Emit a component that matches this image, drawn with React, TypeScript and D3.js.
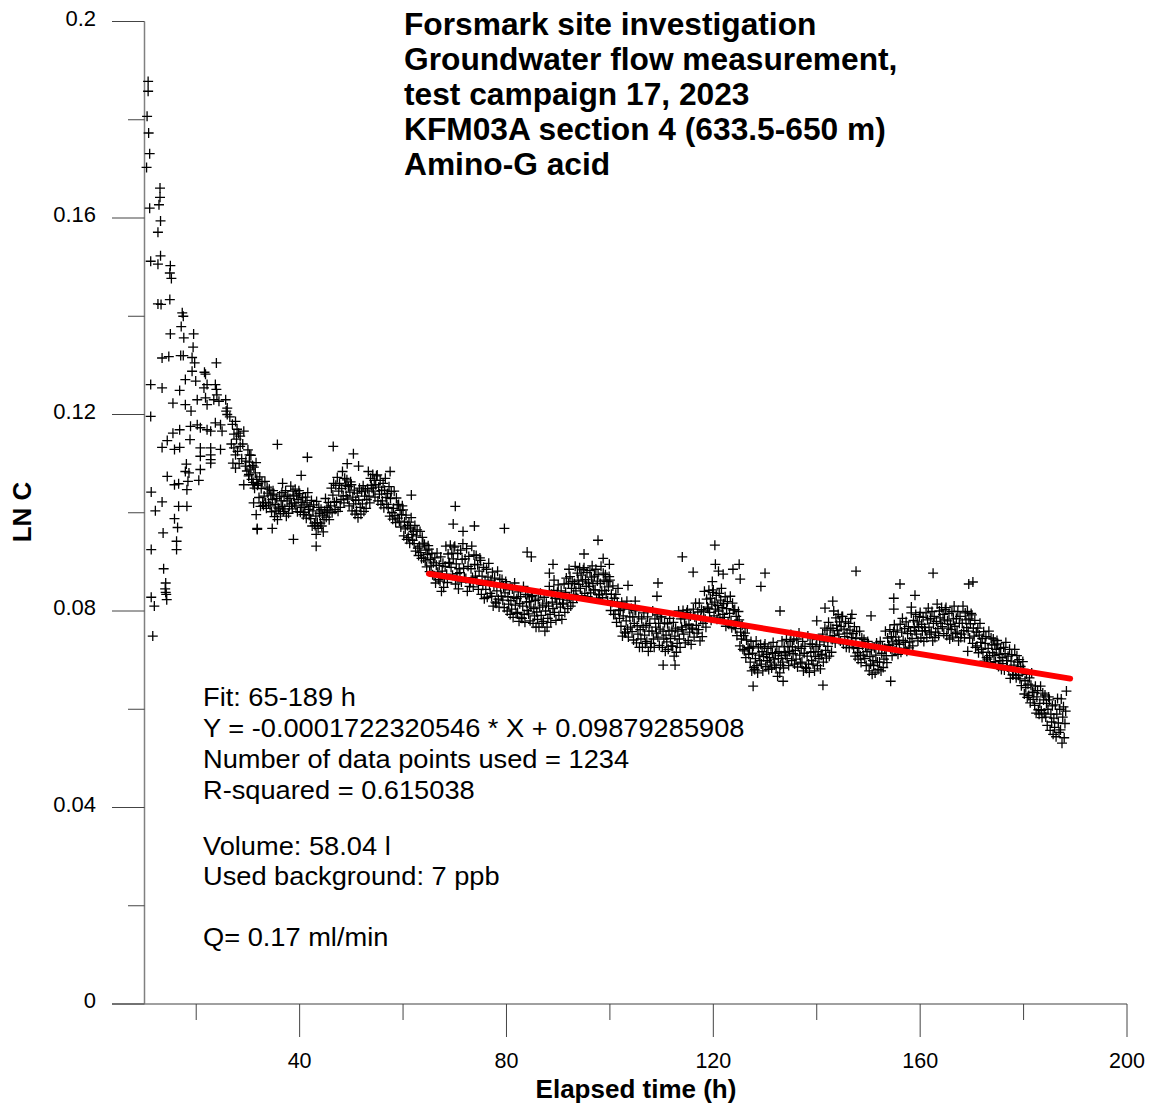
import React from "react";
import * as d3 from "d3";

// title + annotation text
const titleLines = [
  "Forsmark site investigation",
  "Groundwater flow measurement,",
  "test campaign 17, 2023",
  "KFM03A section 4 (633.5-650 m)",
  "Amino-G acid",
];
const noteLines = [
  "Fit: 65-189 h",
  "Y = -0.0001722320546 * X + 0.09879285908",
  "Number of data points used = 1234",
  "R-squared = 0.615038",
  "Volume: 58.04 l",
  "Used background: 7 ppb",
  "Q= 0.17 ml/min",
];
const noteBaselines = [706, 737, 768, 799, 855, 885, 946];

const xMajor = [40, 80, 120, 160, 200];
const xMinor = [20, 60, 100, 140, 180];
const yMajor = [0, 0.04, 0.08, 0.12, 0.16, 0.2];
const yMinor = [0.02, 0.06, 0.1, 0.14, 0.18];
const yLabels = ["0", "0.04", "0.08", "0.12", "0.16", "0.2"];

// fitted line from the note
const fitSlope = -0.0001722320546;
const fitIntercept = 0.09879285908;
const fitRange = [65, 189];

// first hours: [elapsed time h, LN C]
const earlyPoints: [number, number][] = [
  [10.7, .1878], [10.7, .1858], [10.5, .1807], [10.8, .1773], [11.0, .1731], [10.4, .1703],
  [13.0, .1661], [13.0, .1642], [12.8, .1627], [11.0, .1620], [13.1, .1594], [12.6, .1571],
  [13.1, .1523], [11.2, .1512], [12.6, .1506], [15.0, .1503], [14.9, .1488], [15.2, .1477],
  [12.6, .1425], [13.2, .1424], [14.9, .1434], [17.3, .1407], [17.5, .1400], [17.1, .1379],
  [15.0, .1364], [17.6, .1356], [19.5, .1364], [19.4, .1337], [13.4, .1315], [14.7, .1318],
  [17.0, .1320], [17.5, .1320], [19.2, .1316], [19.7, .1305], [23.9, .1305], [19.2, .1288],
  [21.6, .1286], [21.8, .1282], [11.2, .1261], [13.4, .1254], [16.8, .1249], [17.9, .1271],
  [19.9, .1268], [21.5, .1254], [22.1, .1261], [23.7, .1261], [23.9, .1251], [24.0, .1240],
  [15.5, .1223], [17.9, .1220], [19.0, .1207], [20.2, .1230], [21.8, .1234], [22.1, .1220],
  [23.4, .1230], [24.4, .1227], [25.7, .1230], [26.0, .1213], [11.2, .1196], [25.8, .1207],
  [26.0, .1200], [27.6, .1186], [15.5, .1162], [16.8, .1169], [18.9, .1176], [20.2, .1179],
  [20.8, .1173], [22.1, .1169], [22.8, .1166], [23.7, .1183], [24.7, .1179], [25.0, .1166],
  [28.2, .1162], [28.5, .1156], [29.2, .1166], [13.4, .1133], [14.4, .1147], [15.8, .1129],
  [16.8, .1133], [18.8, .1149], [20.8, .1132], [22.8, .1132], [22.8, .1118], [24.7, .1129],
  [27.3, .1132], [27.6, .1118], [28.5, .1135], [30.3, .1118], [20.8, .1115], [22.8, .1108],
  [22.8, .1101], [18.1, .1099], [17.9, .1084], [18.6, .1081], [20.8, .1088], [27.1, .1101],
  [27.6, .1091], [29.5, .1095], [30.2, .1078], [14.4, .1074], [15.8, .1057], [16.6, .1059],
  [18.4, .1064], [20.5, .1066], [29.2, .1057], [31.0, .1057], [11.3, .1042], [13.4, .1022],
  [18.2, .1047], [12.1, .1004], [16.6, .1013], [18.2, .1013], [31.1, .1020], [31.6, .0996],
  [15.8, .0988], [16.4, .0970], [13.6, .0959], [16.2, .0942], [16.2, .0925], [11.3, .0925],
  [31.8, .0966], [13.7, .0886], [14.1, .0857], [14.2, .0834], [14.3, .0823], [11.3, .0828],
  [11.9, .0810], [11.6, .0749], [14.0, .0845], [14.1, .0838],
  [26.5, .1195], [27.0, .1180], [27.3, .1160], [27.8, .1150], [28.0, .1125], [28.8, .1110],
  [29.0, .1140], [29.6, .1105], [29.8, .1085], [26.8, .1140], [27.9, .1170], [28.3, .1100],
];

// dense part: [hour, readings spaced evenly through that hour], LN C in units of 1e-4
const bandRows: number[][] = [
  [30, 1128, 1075, 1103, 1089, 1117, 1068, 1096],
  [31, 1062, 1093, 1050, 1081, 1102, 1068, 1056],
  [32, 1059, 1031, 1073, 1013, 1049, 1063, 1020],
  [33, 1015, 1034, 1064, 1021, 1009, 1052, 1040],
  [34, 1020, 1048, 1014, 1036, 1002, 1027, 1045],
  [35, 1038, 992, 1017, 1004, 1029, 986, 1010],
  [36, 1008, 1034, 998, 1024, 1041, 1013, 1003],
  [37, 1033, 1008, 1045, 993, 1024, 1036, 999],
  [38, 1013, 1029, 1054, 1018, 1008, 1044, 1034],
  [39, 1020, 1048, 1014, 1036, 1002, 1027, 1045],
  [40, 1039, 1001, 1021, 1011, 1031, 996, 1016],
  [41, 1001, 1032, 989, 1020, 1041, 1007, 995],
  [42, 1013, 988, 1025, 973, 1004, 1016, 979],
  [43, 974, 993, 1023, 980, 968, 1011, 999],
  [44, 979, 1007, 973, 995, 961, 986, 1004],
  [45, 1029, 991, 1011, 1001, 1021, 986, 1006],
  [46, 1014, 1050, 1000, 1036, 1060, 1021, 1007],
  [47, 1056, 1023, 1072, 1003, 1044, 1060, 1011],
  [48, 1027, 1049, 1084, 1034, 1020, 1070, 1056],
  [49, 1035, 1067, 1028, 1053, 1014, 1042, 1063],
  [50, 1057, 1004, 1032, 1018, 1046, 997, 1025],
  [51, 1004, 1040, 990, 1026, 1050, 1011, 997],
  [52, 1043, 1018, 1055, 1003, 1034, 1046, 1009],
  [53, 1027, 1049, 1084, 1034, 1020, 1070, 1056],
  [54, 1050, 1078, 1044, 1066, 1032, 1057, 1075],
  [55, 1077, 1024, 1052, 1038, 1066, 1017, 1045],
  [56, 1024, 1060, 1010, 1046, 1070, 1031, 1017],
  [57, 1039, 1011, 1053, 993, 1029, 1043, 1000],
  [58, 987, 1009, 1044, 994, 980, 1030, 1016],
  [59, 989, 1017, 983, 1005, 971, 996, 1014],
  [60, 1006, 953, 981, 967, 995, 946, 974],
  [61, 950, 981, 938, 969, 990, 956, 944],
  [62, 962, 937, 974, 922, 953, 965, 928],
  [63, 913, 932, 962, 919, 907, 950, 938],
  [64, 908, 936, 902, 924, 890, 915, 933],
  [65, 926, 880, 905, 892, 917, 874, 898],
  [66, 872, 908, 857, 893, 918, 879, 864],
  [67, 893, 861, 910, 840, 881, 897, 848],
  [68, 866, 891, 932, 875, 858, 916, 899],
  [69, 897, 934, 889, 918, 873, 906, 930],
  [70, 932, 855, 896, 876, 917, 845, 886],
  [71, 878, 924, 859, 905, 937, 887, 868],
  [72, 906, 866, 927, 840, 891, 911, 850],
  [73, 858, 886, 932, 868, 849, 914, 895],
  [74, 871, 913, 862, 894, 844, 881, 908],
  [75, 903, 834, 871, 852, 889, 825, 861],
  [76, 844, 885, 828, 869, 897, 852, 836],
  [77, 863, 830, 879, 810, 851, 867, 818],
  [78, 816, 841, 881, 824, 808, 865, 849],
  [79, 830, 864, 822, 849, 807, 837, 860],
  [80, 854, 800, 829, 814, 843, 793, 821],
  [81, 804, 845, 787, 828, 857, 812, 795],
  [82, 825, 797, 839, 779, 815, 829, 786],
  [83, 785, 810, 850, 793, 777, 834, 818],
  [84, 801, 833, 794, 819, 780, 808, 829],
  [85, 832, 775, 805, 790, 821, 767, 798],
  [86, 783, 824, 767, 808, 836, 791, 775],
  [87, 812, 779, 828, 759, 800, 816, 767],
  [88, 785, 810, 850, 793, 777, 834, 818],
  [89, 805, 842, 797, 826, 781, 814, 838],
  [90, 853, 791, 824, 808, 841, 783, 816],
  [91, 814, 855, 797, 838, 867, 822, 805],
  [92, 856, 828, 870, 810, 846, 860, 817],
  [93, 834, 856, 891, 841, 827, 877, 863],
  [94, 854, 888, 846, 873, 831, 861, 884],
  [95, 888, 836, 864, 850, 878, 829, 857],
  [96, 850, 882, 837, 869, 892, 856, 843],
  [97, 871, 843, 885, 826, 861, 874, 833],
  [98, 834, 856, 891, 841, 827, 877, 863],
  [99, 842, 874, 835, 860, 821, 849, 870],
  [100, 863, 801, 834, 818, 851, 793, 826],
  [101, 793, 834, 777, 818, 846, 801, 785],
  [102, 802, 769, 818, 749, 790, 806, 757],
  [103, 755, 780, 820, 763, 747, 804, 788],
  [104, 767, 805, 758, 788, 741, 775, 801],
  [105, 801, 735, 770, 753, 788, 726, 762],
  [106, 743, 784, 726, 767, 796, 751, 734],
  [107, 771, 738, 788, 718, 759, 775, 726],
  [108, 734, 759, 800, 743, 726, 784, 767],
  [109, 755, 792, 747, 775, 730, 763, 788],
  [110, 788, 726, 759, 743, 776, 718, 751],
  [111, 737, 774, 722, 759, 785, 744, 729],
  [112, 761, 728, 777, 708, 749, 765, 716],
  [113, 734, 759, 800, 743, 726, 784, 767],
  [114, 762, 801, 753, 784, 735, 770, 797],
  [115, 802, 740, 773, 757, 790, 732, 765],
  [116, 763, 804, 747, 788, 816, 771, 755],
  [117, 798, 762, 816, 739, 785, 803, 748],
  [118, 775, 800, 840, 783, 767, 824, 808],
  [119, 805, 842, 797, 826, 781, 814, 838],
  [120, 843, 790, 818, 804, 832, 783, 811],
  [121, 800, 836, 786, 822, 846, 807, 793],
  [122, 815, 787, 829, 769, 805, 819, 776],
  [123, 773, 795, 830, 780, 766, 816, 802],
  [124, 771, 803, 764, 789, 750, 778, 799],
  [125, 782, 729, 757, 743, 771, 722, 750],
  [126, 719, 755, 705, 741, 765, 726, 712],
  [127, 724, 696, 738, 678, 714, 728, 685],
  [128, 681, 703, 739, 689, 674, 725, 710],
  [129, 699, 732, 692, 717, 678, 707, 728],
  [130, 733, 687, 712, 699, 724, 681, 705],
  [131, 696, 727, 684, 715, 736, 702, 690],
  [132, 714, 685, 728, 667, 703, 717, 674],
  [133, 690, 709, 739, 696, 684, 727, 715],
  [134, 710, 742, 703, 728, 689, 717, 738],
  [135, 752, 699, 727, 713, 741, 692, 720],
  [136, 702, 743, 686, 727, 755, 710, 694],
  [137, 724, 696, 738, 678, 714, 728, 685],
  [138, 683, 708, 749, 692, 675, 733, 716],
  [139, 699, 732, 692, 717, 678, 707, 728],
  [140, 742, 689, 717, 703, 731, 682, 710],
  [141, 712, 753, 696, 737, 765, 720, 704],
  [142, 761, 728, 777, 708, 749, 765, 716],
  [143, 742, 764, 800, 750, 735, 786, 771],
  [144, 760, 793, 753, 778, 739, 768, 789],
  [145, 789, 733, 763, 748, 778, 726, 755],
  [146, 739, 775, 725, 761, 785, 746, 732],
  [147, 754, 726, 768, 708, 744, 758, 715],
  [148, 702, 724, 759, 709, 695, 745, 731],
  [149, 710, 742, 703, 728, 689, 717, 738],
  [150, 732, 678, 707, 692, 721, 671, 699],
  [151, 689, 725, 674, 710, 735, 696, 681],
  [152, 724, 696, 738, 678, 714, 728, 685],
  [153, 702, 724, 759, 709, 695, 745, 731],
  [154, 730, 762, 723, 748, 709, 737, 758],
  [155, 772, 719, 747, 733, 761, 712, 740],
  [156, 732, 773, 716, 757, 785, 740, 724],
  [157, 764, 736, 778, 718, 754, 768, 725],
  [158, 737, 759, 796, 744, 729, 781, 766],
  [159, 760, 793, 753, 778, 739, 768, 789],
  [160, 797, 745, 773, 759, 787, 738, 766],
  [161, 760, 796, 746, 782, 806, 767, 753],
  [162, 785, 757, 799, 739, 775, 789, 746],
  [163, 757, 779, 814, 764, 750, 800, 786],
  [164, 775, 807, 768, 793, 754, 782, 803],
  [165, 807, 750, 780, 765, 795, 743, 773],
  [166, 762, 799, 747, 784, 810, 769, 754],
  [167, 785, 757, 799, 739, 775, 789, 746],
  [168, 753, 775, 810, 760, 746, 796, 782],
  [169, 766, 799, 759, 784, 745, 774, 795],
  [170, 792, 734, 765, 749, 781, 726, 757],
  [171, 729, 765, 715, 751, 775, 736, 722],
  [172, 744, 716, 758, 698, 734, 748, 705],
  [173, 702, 724, 759, 709, 695, 745, 731],
  [174, 715, 743, 709, 731, 697, 722, 740],
  [175, 733, 687, 712, 699, 724, 681, 705],
  [176, 693, 726, 680, 713, 736, 699, 686],
  [177, 708, 680, 722, 663, 698, 711, 670],
  [178, 670, 690, 722, 677, 664, 709, 696],
  [179, 669, 701, 662, 687, 648, 676, 697],
  [180, 681, 631, 658, 644, 671, 624, 651],
  [181, 628, 664, 613, 649, 674, 635, 620],
  [182, 634, 608, 647, 592, 625, 638, 599],
  [183, 590, 612, 647, 597, 583, 633, 619],
  [184, 592, 629, 584, 612, 567, 600, 625],
  [185, 619, 557, 590, 574, 607, 549, 582],
  [186, 563, 609, 544, 590, 622, 572, 553],
  [187, 600, 558, 621, 531, 584, 605, 542],
  [188, 571, 596, 637],
];

// scattered single readings outside the main band
const outliers: [number, number][] = [
  [35.7, .1139], [34.7, .0968], [31.8, .0968], [36.7, .1060], [38.8, .0946], [40.3, .1076],
  [41.5, .1113], [43.2, .0932], [43.2, .0956], [46.5, .1135], [49.2, .1100], [50.4, .1120],
  [51.4, .1095], [57.5, .1084], [61.6, .1036], [70.1, .1013], [69.7, .0977], [71.6, .0962],
  [73.8, .0973], [79.6, .0968], [84.0, .0920], [84.8, .0910], [89.0, .0895], [88.3, .0877],
  [89.2, .0863], [92.1, .0885], [95.0, .0916], [97.7, .0944], [98.7, .0907], [99.9, .0895],
  [103.5, .0852], [104.9, .0820], [109.3, .0857], [109.1, .0830], [110.3, .0690], [112.6, .0690],
  [114.0, .0910], [116.1, .0879], [120.3, .0934], [120.4, .0895], [121.0, .0881], [121.9, .0875],
  [119.8, .0860], [123.8, .0885], [125.0, .0895], [125.2, .0865], [127.7, .0647], [130.0, .0877],
  [129.2, .0850], [132.9, .0800], [133.5, .0657], [141.2, .0649], [141.6, .0806], [140.0, .0780],
  [143.1, .0820], [146.8, .0793], [147.6, .0881], [150.5, .0790], [154.3, .0657], [154.9, .0826],
  [154.9, .0804], [156.1, .0855], [159.0, .0832], [158.3, .0808], [162.5, .0877], [169.2, .0718],
  [169.4, .0855], [170.2, .0859],
];

const W = 1157;
const H = 1106;
const font = "'Liberation Sans', Arial, Helvetica, sans-serif";

export default function App() {
  const x = d3.scaleLinear().domain([10, 200]).range([144.5, 1127]);
  const y = d3.scaleLinear().domain([0, 0.2]).range([1004, 21.5]);

  const points: [number, number][] = [...earlyPoints, ...outliers];
  bandRows.forEach((row) => {
    const vals = row.slice(1);
    vals.forEach((v, k) => points.push([row[0] + k / 7, v / 10000]));
  });

  const fitLine = d3
    .line<number>()
    .x((t) => x(t))
    .y((t) => y(fitSlope * t + fitIntercept));

  const cross = 5;
  const axisCol = "#808080";
  const tickCol = "#444";

  return (
    <svg
      width={W}
      height={H}
      style={{ position: "absolute", left: 0, top: 0, background: "#fff" }}
      fontFamily={font}
    >
      {/* axes */}
      <line x1={112} x2={1127} y1={y(0)} y2={y(0)} stroke={axisCol} strokeWidth={1.3} />
      <line x1={x(10)} x2={x(10)} y1={y(0.2)} y2={y(0)} stroke={axisCol} strokeWidth={1.5} />
      {yMajor.map((v, i) => (
        <g key={"ym" + v}>
          <line x1={112} x2={x(10)} y1={y(v)} y2={y(v)} stroke={tickCol} strokeWidth={1} />
          <text x={96} y={y(v) - 3.5} dy="0.35em" textAnchor="end" fontSize={22}>
            {yLabels[i]}
          </text>
        </g>
      ))}
      {yMinor.map((v) => (
        <line key={"yn" + v} x1={128} x2={x(10)} y1={y(v)} y2={y(v)} stroke={tickCol} strokeWidth={1} />
      ))}
      {xMajor.map((t) => (
        <g key={"xm" + t}>
          <line x1={x(t)} x2={x(t)} y1={y(0)} y2={y(0) + 33} stroke={tickCol} strokeWidth={1} />
          <text x={x(t)} y={1068} textAnchor="middle" fontSize={21.5}>
            {t}
          </text>
        </g>
      ))}
      {xMinor.map((t) => (
        <line key={"xn" + t} x1={x(t)} x2={x(t)} y1={y(0)} y2={y(0) + 16} stroke={tickCol} strokeWidth={1} />
      ))}

      <text x={636} y={1098} textAnchor="middle" fontSize={26} fontWeight="bold">
        Elapsed time (h)
      </text>
      <text
        transform={`translate(31, 512) rotate(-90)`}
        textAnchor="middle"
        fontSize={26}
        fontWeight="bold"
      >
        LN C
      </text>

      {/* data crosses */}
      <g stroke="#000" strokeWidth={1.3}>
        {points.map(([t, v], i) => {
          const cx = x(t);
          const cy = y(v);
          return (
            <path
              key={i}
              d={`M${cx - cross},${cy}H${cx + cross}M${cx},${cy - cross}V${cy + cross}`}
            />
          );
        })}
      </g>

      {/* regression line */}
      <path
        d={fitLine(fitRange) || ""}
        stroke="#ff0000"
        strokeWidth={6}
        strokeLinecap="round"
        fill="none"
      />

      {/* title */}
      {titleLines.map((s, i) => (
        <text
          key={s}
          transform={`translate(404, ${35 + i * 35}) scale(1.04, 1)`}
          fontSize={30.5}
          fontWeight="bold"
        >
          {s}
        </text>
      ))}

      {/* fit notes */}
      {noteLines.map((s, i) => (
        <text
          key={i}
          transform={`translate(203, ${noteBaselines[i]}) scale(1.09, 1)`}
          fontSize={25}
        >
          {s}
        </text>
      ))}
    </svg>
  );
}
